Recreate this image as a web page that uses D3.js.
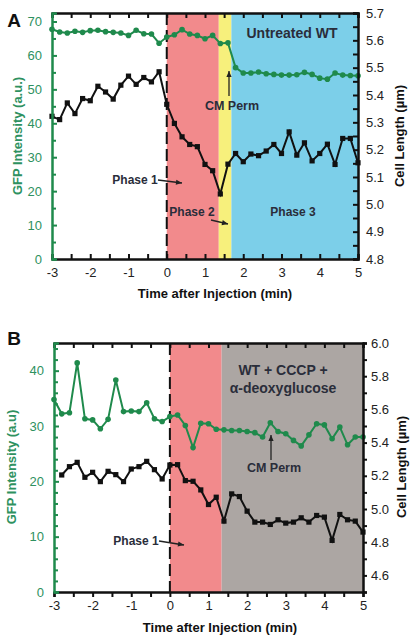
<!DOCTYPE html>
<html><head><meta charset="utf-8">
<script src="https://cdn.jsdelivr.net/npm/d3@7"></script>
<style>
body{margin:0;background:#fff;}
svg{display:block;font-family:"Liberation Sans",Arial,sans-serif;}
</style></head>
<body><svg id="c" width="416" height="643"></svg>
<script>
// ---------- DATA ----------
const timeA = d3.range(41).map(i => +(-3 + i * 0.2).toFixed(1));
const gfpA = [67.7,66.9,66.6,67.1,66.8,67.3,67.4,67.0,66.8,66.6,65.9,67.4,66.4,66.3,63.6,65.4,66.1,67.6,66.3,65.9,64.9,65.9,63.5,63.7,56.4,54.8,54.8,55.1,54.6,54.4,54.2,54.2,54.3,55.0,54.4,53.3,53.0,54.8,54.2,54.1,54.0];
const lenA = [5.322,5.310,5.371,5.332,5.387,5.379,5.432,5.411,5.385,5.436,5.469,5.439,5.464,5.448,5.485,5.366,5.296,5.247,5.219,5.211,5.146,5.123,5.038,5.147,5.186,5.156,5.184,5.178,5.195,5.219,5.186,5.265,5.180,5.225,5.159,5.186,5.220,5.146,5.241,5.241,5.152];
const timeB = d3.range(41).map(i => +(-3 + i * 0.2).toFixed(1));
const gfpB = [34.8,32.2,32.4,41.4,31.3,31.1,29.5,31.2,38.3,32.6,32.7,32.6,34.2,31.3,30.8,31.7,32.0,30.1,26.1,30.5,30.4,29.4,29.3,29.2,29.2,29.0,28.8,28.0,30.6,29.0,28.6,27.4,26.4,28.4,30.4,30.2,27.7,29.8,26.6,28.0,28.0];
const timeLenB = d3.range(40).map(i => +(-2.8 + i * 0.2).toFixed(1));
const lenB = [5.205,5.255,5.281,5.191,5.221,5.165,5.227,5.207,5.165,5.241,5.255,5.287,5.237,5.181,5.265,5.267,5.171,5.167,5.115,5.027,5.071,4.927,5.091,5.075,4.987,4.921,4.921,4.907,4.935,4.915,4.921,4.947,4.921,4.961,4.951,4.811,4.967,4.935,4.927,4.861];
// phases (start, end, colour key)
const phasesA = [[0,1.36,"pink"],[1.36,1.69,"yellow"],[1.69,5,"blue"]];
const phasesB = [[0,1.34,"pink"],[1.34,5,"gray"]];
const xTicks = [-3,-2,-1,0,1,2,3,4,5];
const xMinor = [-2.5,-1.5,-0.5,0.5,1.5,2.5,3.5,4.5];
const yLTicksA = [0,10,20,30,40,50,60,70];
const yLMinorA = [5,15,25,35,45,55,65];
const yRTicksA = [4.8,4.9,5.0,5.1,5.2,5.3,5.4,5.5,5.6,5.7];
const yRMinorA = [4.85,4.95,5.05,5.15,5.25,5.35,5.45,5.55,5.65];
const yLTicksB = [0,10,20,30,40];
const yLMinorB = [2,4,6,8,12,14,16,18,22,24,26,28,32,34,36,38,42,44];
const yRTicksB = [4.6,4.8,5.0,5.2,5.4,5.6,5.8,6.0];
const yRMinorB = [4.5,4.7,4.9,5.1,5.3,5.5,5.7,5.9];

// ---------- STYLE ----------
const COL = {pink:"#f28a8c", yellow:"#f7f07c", blue:"#7ccfe9", gray:"#aca6a3"};
const GREEN = "#1f8a4c", GREENTXT = "#2e9160", DARK = "#2a2d3a";
const svg = d3.select("#c");
const intFmt = d => String(d);

function panel(o){
  const g = svg.append("g");
  const x = d3.scaleLinear().domain([-3,5]).range([o.L,o.R]);
  const yl = d3.scaleLinear().domain(o.yl).range([o.B,o.T]);
  const yr = d3.scaleLinear().domain(o.yr).range([o.B,o.T]);
  g.selectAll("rect.ph").data(o.phases).join("rect")
    .attr("x",d=>x(d[0])).attr("width",d=>x(d[1])-x(d[0]))
    .attr("y",o.T).attr("height",o.B-o.T).attr("fill",d=>COL[d[2]]);
  g.append("line").attr("x1",x(0)).attr("x2",x(0)).attr("y1",o.T).attr("y2",o.B)
    .attr("stroke","#111").attr("stroke-width",2).attr("stroke-dasharray","12,5");
  const lineL = d3.line().x(d=>x(d[0])).y(d=>yl(d[1]));
  const lineR = d3.line().x(d=>x(d[0])).y(d=>yr(d[1]));
  const gd = o.tG.map((t,i)=>[t,o.gfp[i]]);
  const ld = o.tL.map((t,i)=>[t,o.len[i]]);
  g.append("path").datum(ld).attr("d",lineR).attr("fill","none").attr("stroke","#111").attr("stroke-width",2);
  g.selectAll("rect.sq").data(ld).join("rect").attr("class","sq")
    .attr("x",d=>x(d[0])-2.6).attr("y",d=>yr(d[1])-2.6).attr("width",5.2).attr("height",5.2).attr("fill","#111");
  g.append("path").datum(gd).attr("d",lineL).attr("fill","none").attr("stroke",GREEN).attr("stroke-width",2);
  g.selectAll("circle.pt").data(gd).join("circle").attr("class","pt")
    .attr("cx",d=>x(d[0])).attr("cy",d=>yl(d[1])).attr("r",2.8).attr("fill",GREEN);

  const fs = "13px";
  const gb = g.append("g").attr("transform",`translate(0,${o.B})`);
  gb.call(d3.axisBottom(x).tickValues(xTicks).tickSize(o.bTick).tickPadding(o.bPad).tickFormat(intFmt));
  gb.append("g").call(d3.axisBottom(x).tickValues(xMinor).tickSize(o.bTick).tickFormat(""));
  const gt = g.append("g").attr("transform",`translate(0,${o.T})`);
  gt.call(d3.axisTop(x).tickValues(xTicks).tickSize(-5).tickFormat(""));
  gt.append("g").call(d3.axisTop(x).tickValues(xMinor).tickSize(-5).tickFormat(""));
  const gl = g.append("g").attr("transform",`translate(${o.L},0)`);
  gl.call(d3.axisLeft(yl).tickValues(o.ylT).tickSize(-5).tickPadding(10).tickFormat(intFmt));
  gl.append("g").call(d3.axisLeft(yl).tickValues(o.ylM).tickSize(-4).tickFormat(""));
  const gr = g.append("g").attr("transform",`translate(${o.R},0)`);
  gr.call(d3.axisRight(yr).tickValues(o.yrT).tickSize(o.rTick).tickPadding(o.rPad).tickFormat(d3.format(".1f")));
  gr.append("g").call(d3.axisRight(yr).tickValues(o.yrM).tickSize(o.rTick).tickFormat(""));
  [gb,gt,gr].forEach(a=>{a.selectAll("path,line").attr("stroke","#111").attr("stroke-width",2);});
  gl.selectAll("path,line").attr("stroke",GREEN).attr("stroke-width",2);
  g.selectAll(".tick text").attr("font-size",fs).attr("font-family","Liberation Sans, Arial, sans-serif").attr("fill","#222");
  gl.selectAll(".tick text").attr("fill",GREENTXT);
  return {g,x,yl,yr};
}

function txt(s,x,y,opt={}){
  return svg.append("text").attr("x",x).attr("y",y).text(s)
    .attr("font-size",opt.fs||"13px").attr("font-weight",opt.w||"bold")
    .attr("fill",opt.c||DARK).attr("text-anchor",opt.a||"middle")
    .attr("transform",opt.rot?`rotate(-90,${x},${y})`:null);
}
function arrow(x1,y1,x2,y2){
  svg.append("line").attr("x1",x1).attr("y1",y1).attr("x2",x2).attr("y2",y2)
    .attr("stroke","#222").attr("stroke-width",1.3);
  const a = Math.atan2(y2-y1,x2-x1), L=6, W=2.6;
  const p = [[x2,y2],[x2-L*Math.cos(a)+W*Math.sin(a), y2-L*Math.sin(a)-W*Math.cos(a)],[x2-L*Math.cos(a)-W*Math.sin(a), y2-L*Math.sin(a)+W*Math.cos(a)]];
  svg.append("path").attr("d","M"+p.join("L")+"Z").attr("fill","#222");
}

// ---------- PANEL A ----------
panel({L:52,R:358,T:13,B:259,yl:[0,72.5],yr:[4.8,5.7],phases:phasesA,
  tG:timeA,gfp:gfpA,tL:timeA,len:lenA,ylT:yLTicksA,ylM:yLMinorA,yrT:yRTicksA,yrM:yRMinorA,
  bTick:-5,bPad:9,rTick:-5,rPad:8});
txt("A",14,27,{fs:"19px",c:"#111"});
txt("Untreated WT",292,38,{fs:"14px"});
txt("CM Perm",232,110,{fs:"12.5px"});
arrow(229,96,229,71);
txt("Phase 1",135,184,{fs:"12px"});
arrow(158,180,182,183);
txt("Phase 2",192,216,{fs:"12px"});
arrow(211,220,228,224);
txt("Phase 3",293,216,{fs:"12px"});
txt("Time after Injection (min)",215,298,{fs:"13px",c:"#111"});
txt("GFP Intensity (a.u.)",22,136,{fs:"13px",c:GREENTXT,rot:true});
txt("Cell Length (µm)",404,136,{fs:"13px",c:"#111",rot:true});

// ---------- PANEL B ----------
panel({L:54,R:363,T:343,B:592,yl:[0,45],yr:[4.5,6.0],phases:phasesB,
  tG:timeB,gfp:gfpB,tL:timeLenB,len:lenB,ylT:yLTicksB,ylM:yLMinorB,yrT:yRTicksB,yrM:yRMinorB,
  bTick:5,bPad:4,rTick:4,rPad:4});
txt("B",14,345,{fs:"19px",c:"#111"});
txt("WT + CCCP +",283,375,{fs:"14px"});
txt("α-deoxyglucose",283,393,{fs:"14px"});
txt("CM Perm",274,472,{fs:"12.5px"});
arrow(271,460,271,435);
txt("Phase 1",136,545,{fs:"12px"});
arrow(159,541,184,545);
txt("Time after Injection (min)",220,632,{fs:"13px",c:"#111"});
txt("GFP Intensity (a.u)",16,467,{fs:"13px",c:GREENTXT,rot:true});
txt("Cell Length (µm)",406,467,{fs:"13px",c:"#111",rot:true});
</script></body></html>
